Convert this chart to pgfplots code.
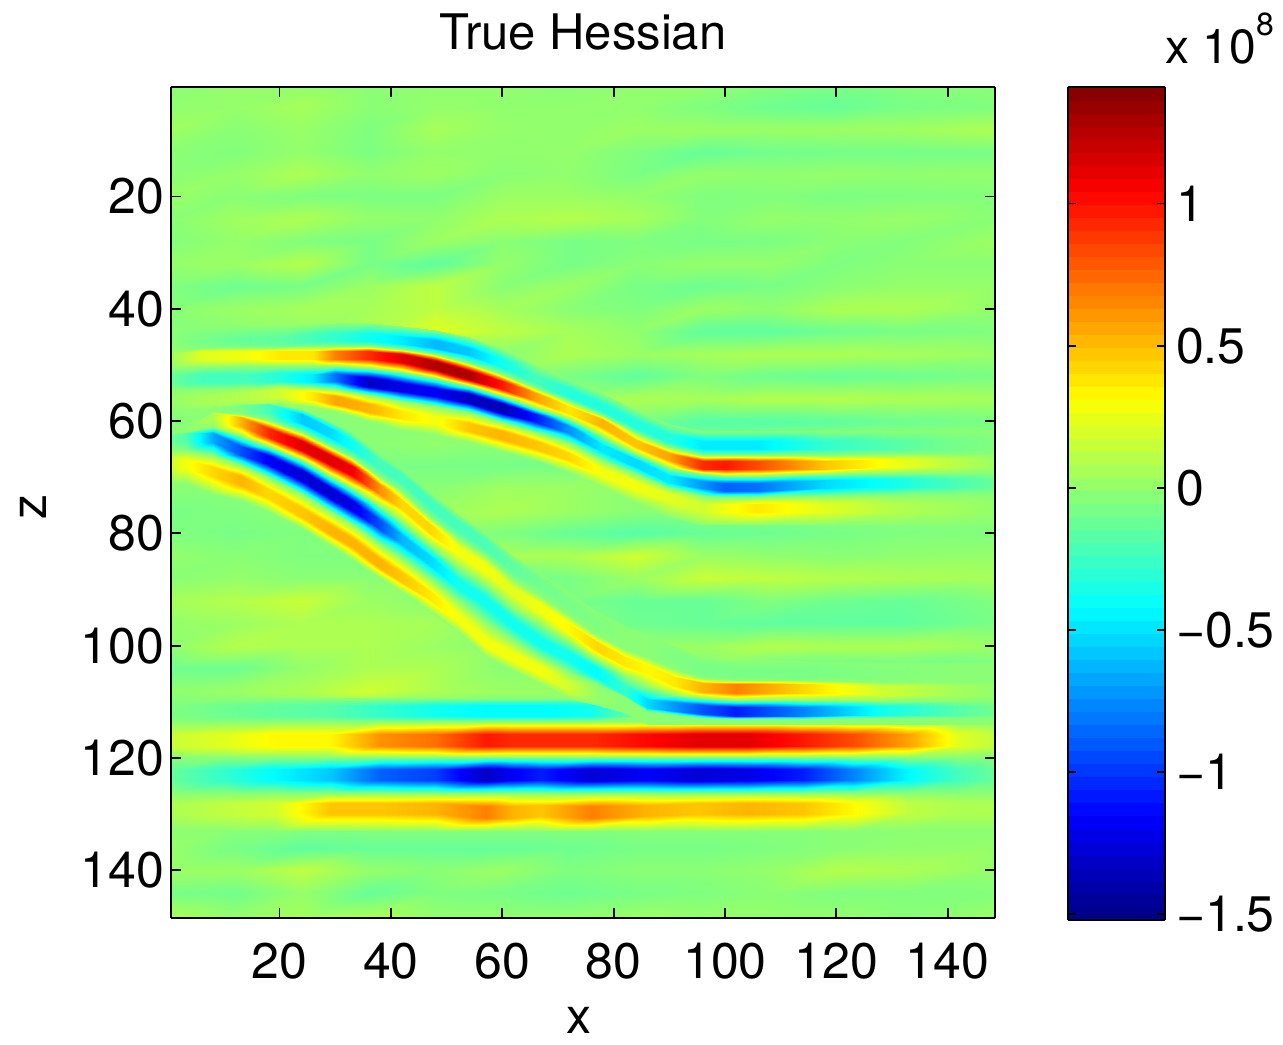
\documentclass[border=0pt]{standalone}
\usepackage{fontspec}
\setmainfont{TeX Gyre Heros}
\usepackage{pgfplots}
\pgfplotsset{compat=1.18}
\begin{document}
\begin{tikzpicture}[x=1pt,y=1pt]
\useasboundingbox (0,0) rectangle (641.5,522);
\begin{axis}[
  at={(85.5pt,63pt)},anchor=south west,
  scale only axis,width=412pt,height=415.5pt,
  view={0}{90},
  xmin=0.5,xmax=148.5,ymin=0.5,ymax=148.5,zmin=-2,zmax=2,
  y dir=reverse,
  xtick={20,40,...,140},ytick={20,40,...,140},ztick=\empty,
  tick align=inside,major tick length=5pt,
  tick style={black,line width=0.9pt},
  axis line style={line width=0.9pt},
  xtick pos=both,ytick pos=both,
  xticklabel pos=lower,yticklabel pos=left,
  /pgf/number format/assume math mode=true,
  tick label style={font=\fontsize{25}{28}\selectfont},
  xticklabel style={yshift=-9pt},
  title={True Hessian},
  title style={font=\fontsize{24.5}{28}\selectfont,at={(0.5,1)},yshift=9pt,anchor=south},
  xlabel={x},ylabel={z},
  label style={font=\fontsize{25}{28}\selectfont},
  xlabel style={at={(axis description cs:0.495,-0.1227)},anchor=center},
  ylabel style={at={(axis description cs:-0.1675,0.494)},anchor=center},
  colormap/jet,
  point meta min=-1.52,point meta max=1.41,
  colorbar,colorbar sampled,
  colorbar style={samples=65,at={(1.0886,1)},anchor=north west,
    width=48.5pt,height=416.5pt,scale only axis,
    ytick={-1.5,-1,-0.5,0,0.5,1},
    yticklabels={−1.5,−1,−0.5,0,0.5,1},
    yticklabel pos=right,ytick pos=both,
    tick align=inside,major tick length=4pt,
    tick style={black,line width=0.9pt},
    axis line style={line width=0.9pt},
    tick label style={font=\fontsize{25}{28}\selectfont},
    xticklabel style={yshift=0pt},
    yticklabel style={xshift=2pt}},
  axis on top,
  clip=true,
]
% background ripples
\addplot3[surf,shader=interp,mesh/cols=13,point meta={z-0.025}] coordinates {
(0.5,0.5,0)(12,0.5,.03)(24,0.5,.03)(36,0.5,0)(48,0.5,.02)(60,0.5,.02)(72,0.5,0)(84,0.5,.02)(96,0.5,.02)(108,0.5,-.02)(120,0.5,-.05)(132,0.5,-.02)(148.5,0.5,0)
(0.5,4,.02)(12,4,.03)(24,4,.08)(36,4,0)(48,4,.03)(60,4,.02)(72,4,.02)(84,4,.02)(96,4,-.03)(108,4,-.08)(120,4,-.1)(132,4,-.05)(148.5,4,-.03)
(0.5,8,.06)(12,8,0)(24,8,.04)(36,8,-.03)(48,8,.08)(60,8,.03)(72,8,.02)(84,8,.05)(96,8,.05)(108,8,.05)(120,8,.05)(132,8,.06)(148.5,8,.1)
(0.5,12,0)(12,12,-.02)(24,12,.03)(36,12,-.04)(48,12,.03)(60,12,.02)(72,12,.03)(84,12,-.03)(96,12,-.1)(108,12,-.07)(120,12,-.06)(132,12,-.06)(148.5,12,-.05)
(0.5,16,0)(12,16,.03)(24,16,.1)(36,16,.02)(48,16,.05)(60,16,0)(72,16,.02)(84,16,-.04)(96,16,.03)(108,16,.02)(120,16,.03)(132,16,.02)(148.5,16,.03)
(0.5,20,.04)(12,20,0)(24,20,-.03)(36,20,-.04)(48,20,-.04)(60,20,.05)(72,20,.05)(84,20,.03)(96,20,-.03)(108,20,-.02)(120,20,-.04)(132,20,-.03)(148.5,20,-.02)
(0.5,24,0)(12,24,.06)(24,24,.1)(36,24,.03)(48,24,.02)(60,24,.1)(72,24,.12)(84,24,.08)(96,24,-.02)(108,24,.03)(120,24,.02)(132,24,.04)(148.5,24,0)
(0.5,28,-.02)(12,28,.03)(24,28,-.02)(36,28,-.05)(48,28,.05)(60,28,0)(72,28,-.05)(84,28,-.03)(96,28,-.05)(108,28,-.04)(120,28,0)(132,28,-.02)(148.5,28,.05)
(0.5,32,.03)(12,32,.05)(24,32,.12)(36,32,-.05)(48,32,-.12)(60,32,.03)(72,32,-.05)(84,32,0)(96,32,.03)(108,32,.03)(120,32,-.03)(132,32,0)(148.5,32,0)
(0.5,36,-.03)(12,36,-.08)(24,36,-.05)(36,36,.05)(48,36,.15)(60,36,0)(72,36,.05)(84,36,-.05)(96,36,-.08)(108,36,-.05)(120,36,0)(132,36,.03)(148.5,36,.03)
(0.5,40,0)(12,40,.05)(24,40,.08)(36,40,.08)(48,40,.15)(60,40,.08)(72,40,0)(84,40,-.03)(96,40,.05)(108,40,.02)(120,40,.1)(132,40,.1)(148.5,40,.03)
(0.5,44,-.03)(12,44,0)(24,44,.03)(36,44,.1)(48,44,.25)(60,44,.15)(72,44,.08)(84,44,.02)(96,44,-.12)(108,44,-.12)(120,44,-.08)(132,44,-.05)(148.5,44,-.03)
(0.5,48,.03)(12,48,.03)(24,48,0)(36,48,0)(48,48,0)(60,48,0)(72,48,.1)(84,48,.05)(96,48,.08)(108,48,.1)(120,48,.1)(132,48,.08)(148.5,48,.05)
(0.5,52,-.03)(12,52,0)(24,52,0)(36,52,0)(48,52,0)(60,52,0)(72,52,-.05)(84,52,-.12)(96,52,-.03)(108,52,-.08)(120,52,-.1)(132,52,-.08)(148.5,52,-.05)
(0.5,56,.05)(12,56,.05)(24,56,.03)(36,56,0)(48,56,0)(60,56,.05)(72,56,.08)(84,56,.1)(96,56,.08)(108,56,.12)(120,56,.12)(132,56,.1)(148.5,56,.08)
(0.5,60,-.02)(12,60,.05)(24,60,0)(36,60,0)(48,60,0)(60,60,0)(72,60,-.02)(84,60,-.05)(96,60,-.15)(108,60,-.15)(120,60,-.12)(132,60,-.08)(148.5,60,-.05)
(0.5,64,0)(12,64,0)(24,64,0)(36,64,0)(48,64,.02)(60,64,0)(72,64,-.03)(84,64,-.03)(96,64,0)(108,64,.03)(120,64,.05)(132,64,.05)(148.5,64,.03)
(0.5,68,0)(12,68,0)(24,68,0)(36,68,-.05)(48,68,-.05)(60,68,-.05)(72,68,-.05)(84,68,0)(96,68,0)(108,68,0)(120,68,0)(132,68,0)(148.5,68,0)
(0.5,72,0)(12,72,0)(24,72,0)(36,72,0)(48,72,0)(60,72,.06)(72,72,.05)(84,72,0)(96,72,0)(108,72,0)(120,72,0)(132,72,0)(148.5,72,0)
(0.5,76,-.05)(12,76,-.03)(24,76,0)(36,76,0)(48,76,.05)(60,76,.1)(72,76,.05)(84,76,0)(96,76,0)(108,76,0)(120,76,0)(132,76,0)(148.5,76,0)
(0.5,80,-.03)(12,80,-.05)(24,80,-.03)(36,80,0)(48,80,0)(60,80,-.03)(72,80,-.1)(84,80,-.15)(96,80,-.1)(108,80,-.08)(120,80,-.05)(132,80,-.03)(148.5,80,-.02)
(0.5,84,.02)(12,84,0)(24,84,-.03)(36,84,-.03)(48,84,0)(60,84,.1)(72,84,.1)(84,84,.2)(96,84,.05)(108,84,.02)(120,84,0)(132,84,.02)(148.5,84,.03)
(0.5,88,0)(12,88,.03)(24,88,0)(36,88,0)(48,88,0)(60,88,-.1)(72,88,-.05)(84,88,.05)(96,88,.18)(108,88,.15)(120,88,.12)(132,88,.1)(148.5,88,.08)
(0.5,92,.08)(12,92,.12)(24,92,.18)(36,92,.05)(48,92,0)(60,92,0)(72,92,-.05)(84,92,-.1)(96,92,-.1)(108,92,-.03)(120,92,-.08)(132,92,-.1)(148.5,92,-.03)
(0.5,96,.03)(12,96,.05)(24,96,.1)(36,96,.1)(48,96,.08)(60,96,0)(72,96,0)(84,96,-.08)(96,96,-.1)(108,96,-.12)(120,96,-.12)(132,96,-.12)(148.5,96,-.05)
(0.5,100,.02)(12,100,.12)(24,100,.1)(36,100,.1)(48,100,.05)(60,100,0)(72,100,0)(84,100,.05)(96,100,.05)(108,100,.12)(120,100,.1)(132,100,.1)(148.5,100,.05)
(0.5,104,-.08)(12,104,-.08)(24,104,.03)(36,104,.1)(48,104,.1)(60,104,0)(72,104,0)(84,104,.05)(96,104,-.03)(108,104,-.1)(120,104,-.1)(132,104,-.1)(148.5,104,-.05)
(0.5,108,.02)(12,108,.05)(24,108,.1)(36,108,.2)(48,108,.1)(60,108,.05)(72,108,.05)(84,108,0)(96,108,0)(108,108,0)(120,108,0)(132,108,.05)(148.5,108,.08)
(0.5,112,-.1)(12,112,-.12)(24,112,-.12)(36,112,-.15)(48,112,-.1)(60,112,-.1)(72,112,0)(84,112,0)(96,112,0)(108,112,0)(120,112,-.05)(132,112,-.08)(148.5,112,-.1)
(0.5,116,0)(12,116,0)(24,116,0)(36,116,0)(48,116,0)(60,116,0)(72,116,0)(84,116,0)(96,116,0)(108,116,0)(120,116,0)(132,116,0)(148.5,116,0)
(0.5,120,0)(12,120,0)(24,120,0)(36,120,0)(48,120,0)(60,120,0)(72,120,0)(84,120,0)(96,120,0)(108,120,0)(120,120,0)(132,120,0)(148.5,120,0)
(0.5,124,0)(12,124,0)(24,124,0)(36,124,0)(48,124,0)(60,124,0)(72,124,0)(84,124,0)(96,124,0)(108,124,0)(120,124,0)(132,124,0)(148.5,124,0)
(0.5,128,0)(12,128,0)(24,128,0)(36,128,0)(48,128,0)(60,128,0)(72,128,0)(84,128,0)(96,128,0)(108,128,0)(120,128,0)(132,128,0)(148.5,128,0)
(0.5,132,0)(12,132,0)(24,132,0)(36,132,0)(48,132,0)(60,132,0)(72,132,0)(84,132,0)(96,132,0)(108,132,0)(120,132,0)(132,132,0)(148.5,132,0)
(0.5,136,.03)(12,136,-.05)(24,136,-.12)(36,136,-.1)(48,136,-.1)(60,136,-.1)(72,136,-.08)(84,136,-.05)(96,136,-.05)(108,136,-.03)(120,136,0)(132,136,.02)(148.5,136,.03)
(0.5,140,.05)(12,140,.05)(24,140,.15)(36,140,.03)(48,140,0)(60,140,.05)(72,140,-.03)(84,140,0)(96,140,0)(108,140,.03)(120,140,.12)(132,140,.1)(148.5,140,.03)
(0.5,144,-.05)(12,144,-.07)(24,144,.03)(36,144,-.1)(48,144,-.03)(60,144,-.05)(72,144,-.08)(84,144,-.05)(96,144,-.03)(108,144,0)(120,144,-.03)(132,144,-.03)(148.5,144,-.02)
(0.5,148.5,.1)(12,148.5,.03)(24,148.5,.08)(36,148.5,.1)(48,148.5,.03)(60,148.5,.03)(72,148.5,.03)(84,148.5,.05)(96,148.5,.03)(108,148.5,.03)(120,148.5,.03)(132,148.5,0)(148.5,148.5,.05)
};
% bottom reflector
\addplot3[surf,shader=interp,mesh/cols=13,point meta={z-0.025}] coordinates {
(0.5,109.3,0)(0.5,110.5,-.03)(0.5,112.5,-.03)(0.5,113.5,0)(0.5,115.8,.18)(0.5,117.8,.18)(0.5,119.8,0)(0.5,122,-.1)(0.5,124,-.1)(0.5,126.3,0)(0.5,128,.1)(0.5,130,.1)(0.5,133,0)
(10,109.3,0)(10,110.5,-.08)(10,112.5,-.08)(10,113.5,0)(10,115.8,.25)(10,117.8,.25)(10,119.8,0)(10,122,-.25)(10,124,-.25)(10,126.3,0)(10,128,.15)(10,130,.15)(10,133,0)
(19,109.3,0)(19,110.5,-.12)(19,112.5,-.12)(19,113.5,0)(19,115.8,.35)(19,117.8,.35)(19,119.8,0)(19,122,-.4)(19,124,-.4)(19,126.3,0)(19,128,.2)(19,130,.2)(19,133,0)
(29,109.3,0)(29,110.5,-.15)(29,112.5,-.15)(29,113.5,0)(29,115.8,.35)(29,117.8,.35)(29,119.8,0)(29,122,-.55)(29,124,-.55)(29,126.3,0)(29,128,.5)(29,130,.5)(29,133,0)
(38,109.3,0)(38,110.5,-.25)(38,112.5,-.25)(38,113.5,0)(38,115.8,.65)(38,117.8,.65)(38,119.8,0)(38,122,-.85)(38,124,-.85)(38,126.3,0)(38,128,.5)(38,130,.5)(38,133,0)
(48,109.3,0)(48,110.5,-.35)(48,112.5,-.35)(48,113.5,0)(48,115.8,.75)(48,117.8,.75)(48,119.8,0)(48,122,-.95)(48,124,-.95)(48,126.3,0)(48,128,.55)(48,130,.55)(48,133,0)
(57,109.3,0)(57,110.5,-.4)(57,112.5,-.4)(57,113.5,0)(57,115.8,1)(57,117.8,1)(57,119.8,0)(57,122,-1.3)(57,124,-1.3)(57,126.3,0)(57,128.6,.7)(57,130.6,.7)(57,133,0)
(62,109.3,0)(62,110.5,-.4)(62,112.5,-.4)(62,113.5,0)(62,115.8,.95)(62,117.8,.95)(62,119.8,0)(62,122,-1.15)(62,124,-1.15)(62,126.3,0)(62,128.6,.55)(62,130.6,.55)(62,133,0)
(67,109.3,0)(67,110.5,-.4)(67,112.5,-.4)(67,113.5,0)(67,115.8,.95)(67,117.8,.95)(67,119.8,0)(67,122,-1.05)(67,124,-1.05)(67,126.3,0)(67,128.4,.5)(67,130.4,.5)(67,133,0)
(76,109.3,0)(76,110.5,-.35)(76,112.5,-.35)(76,113.5,0)(76,115.8,.95)(76,117.8,.95)(76,119.8,0)(76,122,-1.25)(76,124,-1.25)(76,126.3,0)(76,128.6,.7)(76,130.6,.7)(76,133,0)
(86,109.3,0)(86,110.5,0)(86,112.5,0)(86,113.5,0)(86,115.8,1.05)(86,117.8,1.05)(86,119.8,0)(86,122,-1.15)(86,124,-1.15)(86,126.3,0)(86,128.4,.55)(86,130.4,.55)(86,133,0)
(95,109.3,0)(95,110.5,0)(95,112.5,0)(95,113.5,0)(95,115.8,1.15)(95,117.8,1.15)(95,119.8,0)(95,122,-1.25)(95,124,-1.25)(95,126.3,0)(95,128,.5)(95,130,.5)(95,133,0)
(104,109.3,0)(104,110.5,0)(104,112.5,0)(104,113.5,0)(104,115.8,1.15)(104,117.8,1.15)(104,119.8,0)(104,122,-1.2)(104,124,-1.2)(104,126.3,0)(104,128,.55)(104,130,.55)(104,133,0)
(114,109.3,0)(114,110.5,0)(114,112.5,0)(114,113.5,0)(114,115.8,1)(114,117.8,1)(114,119.8,0)(114,122,-1.05)(114,124,-1.05)(114,126.3,0)(114,128,.5)(114,130,.5)(114,133,0)
(123,109.3,0)(123,110.5,0)(123,112.5,0)(123,113.5,0)(123,115.8,.85)(123,117.8,.85)(123,119.8,0)(123,122,-.75)(123,124,-.75)(123,126.3,0)(123,128,.35)(123,130,.35)(123,133,0)
(133,109.3,0)(133,110.5,0)(133,112.5,0)(133,113.5,0)(133,115.8,.6)(133,117.8,.6)(133,119.8,0)(133,122,-.4)(133,124,-.4)(133,126.3,0)(133,128,.15)(133,130,.15)(133,133,0)
(142,109.3,0)(142,110.5,0)(142,112.5,0)(142,113.5,0)(142,115.8,.25)(142,117.8,.25)(142,119.8,0)(142,122,-.2)(142,124,-.2)(142,126.3,0)(142,128,.1)(142,130,.1)(142,133,0)
(148.5,109.3,0)(148.5,110.5,0)(148.5,112.5,0)(148.5,113.5,0)(148.5,115.8,.15)(148.5,117.8,.15)(148.5,119.8,0)(148.5,122,-.1)(148.5,124,-.1)(148.5,126.3,0)(148.5,128,.1)(148.5,130,.1)(148.5,133,0)
};
% upper reflector
\addplot3[surf,shader=interp,mesh/cols=13,point meta={z-0.025}] coordinates {
(0.5,42.5,0)(0.5,44.3,0)(0.5,45.7,0)(0.5,46.7,0)(0.5,47.8,.05)(0.5,49.2,.05)(0.5,50.5,0)(0.5,51.8,-.1)(0.5,53.2,-.1)(0.5,54.2,0)(0.5,55.3,.03)(0.5,56.7,.03)(0.5,58,0)
(6,43,0)(6,44.8,-.05)(6,46.2,-.05)(6,46.9,0)(6,47.6,.25)(6,49,.25)(6,50.3,0)(6,51.7,-.2)(6,53.1,-.2)(6,54.2,0)(6,55.3,.08)(6,56.7,.08)(6,58,0)
(14,43,0)(14,44.8,-.1)(14,46.2,-.1)(14,46.8,0)(14,47.5,.3)(14,48.9,.3)(14,50.2,0)(14,51.6,-.2)(14,53,-.2)(14,53.9,0)(14,54.8,.12)(14,56.2,.12)(14,57.5,0)
(20,43,0)(20,44.8,-.12)(20,46.2,-.12)(20,46.8,0)(20,47.5,.4)(20,48.9,.4)(20,50.2,0)(20,51.5,-.3)(20,52.9,-.3)(20,53.6,0)(20,54.3,.2)(20,55.7,.2)(20,57,0)
(26,42.7,0)(26,44.5,-.2)(26,45.9,-.2)(26,46.7,0)(26,47.5,.4)(26,48.9,.4)(26,50.2,0)(26,51.6,-.45)(26,53,-.45)(26,53.9,0)(26,54.8,.4)(26,56.2,.4)(26,57.5,0)
(30,42.5,0)(30,44.3,-.25)(30,45.7,-.25)(30,46.6,0)(30,47.5,.7)(30,48.9,.7)(30,50.2,0)(30,51.5,-.8)(30,52.9,-.8)(30,54.2,0)(30,55.5,.6)(30,56.9,.6)(30,58.2,0)
(36,42.5,0)(36,44.3,-.35)(36,45.7,-.35)(36,46.6,0)(36,47.5,.95)(36,48.9,.95)(36,50.6,0)(36,52.3,-1.3)(36,53.7,-1.3)(36,55.3,0)(36,57,.55)(36,58.4,.55)(36,60,0)
(42,43,0)(42,44.8,-.45)(42,46.2,-.45)(42,47.1,0)(42,48.1,1.15)(42,49.5,1.15)(42,51.3,0)(42,53.2,-1.2)(42,54.6,-1.2)(42,56.4,0)(42,58.2,.4)(42,59.6,.4)(42,61.5,0)
(48,43.7,0)(48,45.5,-.6)(48,46.9,-.6)(48,48.1,0)(48,49.3,1.3)(48,50.7,1.3)(48,52.4,0)(48,54.1,-1.15)(48,55.5,-1.15)(48,57.3,0)(48,59.1,.3)(48,60.5,.3)(48,62.5,0)
(54,45,0)(54,46.9,-.55)(54,48.3,-.55)(54,49.7,0)(54,51.1,1.3)(54,52.5,1.3)(54,53.8,0)(54,55.2,-1.3)(54,56.6,-1.3)(54,58.4,0)(54,60.3,.5)(54,61.7,.5)(54,63.8,0)
(60,47.2,0)(60,49,-.35)(60,50.4,-.35)(60,51.6,0)(60,52.9,1)(60,54.3,1)(60,55.6,0)(60,57,-1.35)(60,58.4,-1.35)(60,60.1,0)(60,61.8,.55)(60,63.2,.55)(60,65.3,0)
(66,50,0)(66,51.8,-.2)(66,53.2,-.2)(66,54.1,0)(66,55,.6)(66,56.4,.6)(66,57.6,0)(66,58.8,-1.05)(66,60.2,-1.05)(66,61.9,0)(66,63.6,.5)(66,65,.5)(66,67,0)
(72,52.5,0)(72,54.3,-.3)(72,55.7,-.3)(72,56.5,0)(72,57.3,.4)(72,58.7,.4)(72,59.7,0)(72,60.8,-.7)(72,62.2,-.7)(72,63.9,0)(72,65.6,.45)(72,67,.45)(72,69,0)
(78,55,0)(78,56.8,-.3)(78,58.2,-.3)(78,59,0)(78,59.7,.55)(78,61.1,.55)(78,62.6,0)(78,64.1,-.45)(78,65.5,-.45)(78,66.9,0)(78,68.3,.3)(78,69.7,.3)(78,72,0)
(84,58,0)(84,59.8,-.3)(84,61.2,-.3)(84,62.2,0)(84,63.3,.5)(84,64.7,.5)(84,65.8,0)(84,66.8,-.5)(84,68.2,-.5)(84,69.5,0)(84,70.8,.3)(84,72.2,.3)(84,74.5,0)
(90,60.5,0)(90,62.3,-.3)(90,63.7,-.3)(90,64.6,0)(90,65.6,.6)(90,67,.6)(90,68.3,0)(90,69.6,-.45)(90,71,-.45)(90,71.9,0)(90,72.8,.25)(90,74.2,.25)(90,77,0)
(96,61.7,0)(96,63.5,-.45)(96,64.9,-.45)(96,66,0)(96,67.1,.95)(96,68.5,.95)(96,69.5,0)(96,70.6,-.7)(96,72,-.7)(96,73.4,0)(96,74.8,.2)(96,76.2,.2)(96,78.5,0)
(100,61.7,0)(100,63.5,-.45)(100,64.9,-.45)(100,66,0)(100,67.1,1)(100,68.5,1)(100,69.8,0)(100,71,-.85)(100,72.4,-.85)(100,73.6,0)(100,74.8,.3)(100,76.2,.3)(100,78.5,0)
(106,61.7,0)(106,63.5,-.45)(106,64.9,-.45)(106,66,0)(106,67.1,.85)(106,68.5,.85)(106,69.8,0)(106,71,-.8)(106,72.4,-.8)(106,73.6,0)(106,74.8,.4)(106,76.2,.4)(106,78.5,0)
(118,61.7,0)(118,63.5,-.25)(118,64.9,-.25)(118,66,0)(118,67.1,.5)(118,68.5,.5)(118,69.5,0)(118,70.5,-.5)(118,71.9,-.5)(118,73.3,0)(118,74.8,.25)(118,76.2,.25)(118,78.5,0)
(130,61.7,0)(130,63.5,-.15)(130,64.9,-.15)(130,65.9,0)(130,66.8,.3)(130,68.2,.3)(130,69.2,0)(130,70.3,-.35)(130,71.7,-.35)(130,73.2,0)(130,74.8,.12)(130,76.2,.12)(130,78.5,0)
(140,61.7,0)(140,63.5,-.07)(140,64.9,-.07)(140,65.9,0)(140,66.8,.15)(140,68.2,.15)(140,69.2,0)(140,70.3,-.2)(140,71.7,-.2)(140,73.2,0)(140,74.8,.07)(140,76.2,.07)(140,78.5,0)
(148.5,61.7,0)(148.5,63.5,-.03)(148.5,64.9,-.03)(148.5,65.9,0)(148.5,66.8,.05)(148.5,68.2,.05)(148.5,69.2,0)(148.5,70.3,-.1)(148.5,71.7,-.1)(148.5,73.2,0)(148.5,74.8,.03)(148.5,76.2,.03)(148.5,78.5,0)
};
% dipping reflector
\addplot3[surf,shader=interp,mesh/cols=13,point meta={z-0.025}] coordinates {
(0.5,61,0)(0.5,61.1,0)(0.5,61.2,0)(0.5,61.3,0)(0.5,61.4,0)(0.5,61.5,0)(0.5,62.2,0)(0.5,62.5,-.1)(0.5,63.5,-.1)(0.5,65.2,0)(0.5,66.6,.2)(0.5,68.2,.2)(0.5,71,0)
(3,60.5,0)(3,60.7,0)(3,60.9,0)(3,61.1,0)(3,61.3,0)(3,61.5,0)(3,61.9,0)(3,62.1,-.15)(3,63.5,-.15)(3,65.1,0)(3,66.7,.3)(3,68.3,.3)(3,71,0)
(8,57.5,0)(8,57.7,0)(8,57.9,0)(8,58.2,0)(8,58.3,.1)(8,59.7,.1)(8,61,0)(8,62.2,-.65)(8,63.8,-.65)(8,66,0)(8,68.2,.45)(8,69.8,.45)(8,73,0)
(13,56.9,0)(13,57.1,-.05)(13,57.9,-.05)(13,58.8,0)(13,59.2,.55)(13,60.8,.55)(13,62.6,0)(13,64.4,-.9)(13,66,-.9)(13,67.9,0)(13,69.8,.55)(13,71.4,.55)(13,74,0)
(18,56.7,0)(18,56.9,-.2)(18,58.3,-.2)(18,59.8,0)(18,61.2,.95)(18,62.8,.95)(18,64.4,0)(18,66,-1.15)(18,67.6,-1.15)(18,69.9,0)(18,72.1,.45)(18,73.7,.45)(18,76,0)
(24,57.8,0)(24,58.8,-.55)(24,60.4,-.55)(24,62,0)(24,63.5,1.15)(24,65.1,1.15)(24,67,0)(24,68.9,-1.25)(24,70.5,-1.25)(24,73,0)(24,75.4,.5)(24,77,.5)(24,79,0)
(29,60,0)(29,61.2,-.5)(29,62.8,-.5)(29,64.4,0)(29,66,1.15)(29,67.6,1.15)(29,69.8,0)(29,72,-1.25)(29,73.6,-1.25)(29,76,0)(29,78.5,.55)(29,80.1,.55)(29,82,0)
(33,62,0)(33,63.3,-.35)(33,64.9,-.35)(33,66.4,0)(33,68,1.1)(33,69.6,1.1)(33,71.9,0)(33,74.2,-1.2)(33,75.8,-1.2)(33,78.3,0)(33,80.8,.55)(33,82.4,.55)(33,84.5,0)
(38,65.8,0)(38,67,-.2)(38,68.6,-.2)(38,70,0)(38,71.3,.65)(38,72.9,.65)(38,75.2,0)(38,77.6,-.9)(38,79.2,-.9)(38,81.8,0)(38,84.5,.55)(38,86.1,.55)(38,88,0)
(42,68.3,0)(42,69.5,-.2)(42,71.1,-.2)(42,72.5,0)(42,74,.45)(42,75.6,.45)(42,77.9,0)(42,80.2,-.6)(42,81.8,-.6)(42,84.4,0)(42,87.1,.5)(42,88.7,.5)(42,90.5,0)
(47,72.7,0)(47,73.9,-.2)(47,75.5,-.2)(47,77,0)(47,78.4,.45)(47,80,.45)(47,82,0)(47,84,-.5)(47,85.6,-.5)(47,88,0)(47,90.3,.4)(47,91.9,.4)(47,94,0)
(52,76.6,0)(52,77.8,-.2)(52,79.4,-.2)(52,80.8,0)(52,82.2,.3)(52,83.8,.3)(52,86,0)(52,88.1,-.35)(52,89.7,-.35)(52,91.9,0)(52,94.1,.3)(52,95.7,.3)(52,97.5,0)
(57,80,0)(57,81.2,-.18)(57,82.8,-.18)(57,84.1,0)(57,85.4,.3)(57,87,.3)(57,89.2,0)(57,91.3,-.35)(57,92.9,-.35)(57,95.8,0)(57,98.6,.3)(57,100.2,.3)(57,102,0)
(62,84,0)(62,85.2,-.12)(62,86.8,-.12)(62,88.2,0)(62,89.6,.25)(62,91.2,.25)(62,93.2,0)(62,95.2,-.35)(62,96.8,-.35)(62,99,0)(62,101.2,.3)(62,102.8,.3)(62,104.5,0)
(67,87,0)(67,88.2,-.07)(67,89.8,-.07)(67,91.1,0)(67,92.5,.3)(67,94.1,.3)(67,96.3,0)(67,98.6,-.35)(67,100.2,-.35)(67,102,0)(67,103.7,.3)(67,105.3,.3)(67,107,0)
(72,90.5,0)(72,91.7,-.05)(72,93.3,-.05)(72,94.6,0)(72,96,.35)(72,97.6,.35)(72,99.4,0)(72,101.2,-.35)(72,102.8,-.35)(72,104.6,0)(72,106.4,.2)(72,108,.2)(72,109.5,0)
(77,94,0)(77,95.2,-.03)(77,96.8,-.03)(77,98.1,0)(77,99.4,.45)(77,101,.45)(77,102.5,0)(77,104,-.4)(77,105.6,-.4)(77,106.9,0)(77,108.2,.03)(77,109.8,.03)(77,110.5,0)
(82,96.5,0)(82,97.7,0)(82,99.3,0)(82,100.6,0)(82,102,.4)(82,103.6,.4)(82,105.4,0)(82,107.2,-.25)(82,108.8,-.25)(82,109.2,0)(82,109.7,0)(82,110.3,0)(82,112,0)
(86,98,0)(86,99.2,0)(86,100.8,0)(86,102.1,0)(86,103.5,.35)(86,105.1,.35)(86,107.3,0)(86,109.5,-.5)(86,111.1,-.5)(86,111.6,0)(86,112.2,0)(86,113,0)(86,114,0)
(91,100,0)(91,101.2,-.03)(91,102.8,-.03)(91,104.2,0)(91,105.6,.4)(91,107.2,.4)(91,108.7,0)(91,110.1,-.7)(91,111.7,-.7)(91,112.3,0)(91,112.8,0)(91,113.2,0)(91,114,0)
(96,102.2,0)(96,103.4,-.05)(96,105,-.05)(96,105.8,0)(96,106.6,.55)(96,108.2,.55)(96,109.4,0)(96,110.6,-.9)(96,112.2,-.9)(96,112.8,0)(96,113.2,0)(96,113.6,0)(96,114,0)
(102,102.7,0)(102,103.9,-.05)(102,105.5,-.05)(102,106.1,0)(102,106.8,.7)(102,108.4,.7)(102,109.7,0)(102,111,-1.05)(102,112.6,-1.05)(102,113,0)(102,113.4,0)(102,113.7,0)(102,114,0)
(114,102.7,0)(114,103.9,-.05)(114,105.5,-.05)(114,106.1,0)(114,106.8,.45)(114,108.4,.45)(114,109.7,0)(114,111,-.75)(114,112.6,-.75)(114,113,0)(114,113.4,0)(114,113.7,0)(114,114,0)
(128,103,0)(128,104.2,-.02)(128,105.8,-.02)(128,106.5,0)(128,107.2,.2)(128,108.8,.2)(128,109.8,0)(128,110.7,-.35)(128,112.3,-.35)(128,112.8,0)(128,113.2,0)(128,113.6,0)(128,114,0)
(142,103,0)(142,104.2,0)(142,105.8,0)(142,106.5,0)(142,107.2,.07)(142,108.8,.07)(142,109.8,0)(142,110.7,-.15)(142,112.3,-.15)(142,112.8,0)(142,113.2,0)(142,113.6,0)(142,114,0)
(148.5,103,0)(148.5,104.2,0)(148.5,105.8,0)(148.5,106.5,0)(148.5,107.2,.03)(148.5,108.8,.03)(148.5,109.8,0)(148.5,110.7,-.07)(148.5,112.3,-.07)(148.5,112.8,0)(148.5,113.2,0)(148.5,113.6,0)(148.5,114,0)
};
\end{axis}
\node[anchor=base west,font=\fontsize{24}{28}\selectfont,inner sep=0pt] at (582.5,490) {x 10\raisebox{14pt}{\fontsize{16}{18}\selectfont 8}};
\end{tikzpicture}
\end{document}
